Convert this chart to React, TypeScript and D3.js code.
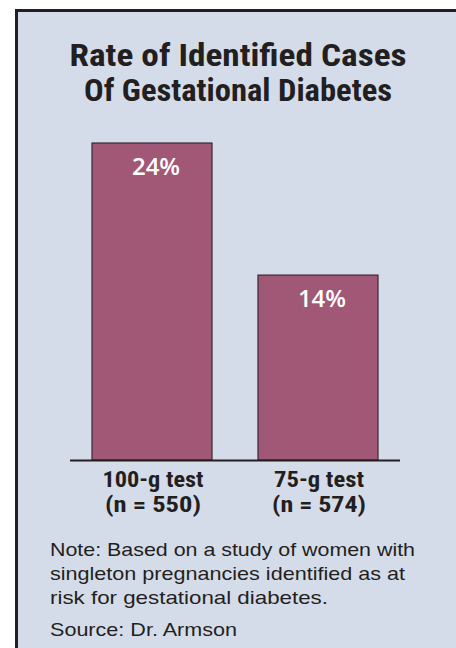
import React, { useEffect, useRef } from "react";
import { scaleBand, scaleLinear, select } from "d3";

// chart data
const categories = ["100-g test", "75-g test"];
const sampleSizes = ["(n = 550)", "(n = 574)"];
const rates = [24, 14];
const titleLines = ["Rate of Identified Cases", "Of Gestational Diabetes"];
const noteLines = [
  "Note: Based on a study of women with",
  "singleton pregnancies identified as at",
  "risk for gestational diabetes.",
];
const source = "Source: Dr. Armson";

const W = 456;
const H = 648;

export default function App() {
  const ref = useRef<SVGSVGElement>(null);

  useEffect(() => {
    const svg = select(ref.current);
    svg.selectAll("*").remove();

    const bg = "#d5dce9";
    const barColor = "#a15776";
    const narrow = "'Liberation Sans Narrow', 'Roboto Condensed', 'Arial Narrow', sans-serif";
    const sans = "'Liberation Sans', Arial, Helvetica, sans-serif";
    const ink = "#231f20";

    // panel + left/top border
    svg.append("rect").attr("x", 0).attr("y", 0).attr("width", W).attr("height", H).attr("fill", "#fff");
    svg
      .append("rect")
      .attr("x", 16)
      .attr("y", 10)
      .attr("width", W - 16)
      .attr("height", H - 10)
      .attr("fill", bg);
    svg
      .append("path")
      .attr("d", `M16.5,${H} V10.5 H${W}`)
      .attr("fill", "none")
      .attr("stroke", ink)
      .attr("stroke-width", 3);

    // title
    svg
      .append("g")
      .selectAll("text")
      .data(titleLines)
      .join("text")
      .attr("x", 238)
      .attr("y", (d, i) => 66 + i * 35)
      .attr("text-anchor", "middle")
      .attr("font-family", narrow)
      .attr("font-weight", "bold")
      .attr("font-size", 31)
      .attr("fill", ink)
      .attr("textLength", (d, i) => (i === 0 ? 337 : 308))
      .attr("lengthAdjust", "spacingAndGlyphs")
      .text((d) => d);

    const baseY = 460;
    const x = scaleBand<string>()
      .domain(categories)
      .range([70, 400])
      .paddingInner(0.277)
      .paddingOuter(0.1325);
    const y = scaleLinear().domain([0, 24]).range([baseY, 143]);

    const bars = svg
      .append("g")
      .selectAll("g")
      .data(categories)
      .join("g");

    bars
      .append("rect")
      .attr("x", (d) => x(d)!)
      .attr("y", (d, i) => y(rates[i]))
      .attr("width", x.bandwidth())
      .attr("height", (d, i) => baseY - y(rates[i]))
      .attr("fill", barColor)
      .attr("stroke", "#3a2a33")
      .attr("stroke-width", 1.2);

    bars
      .append("text")
      .attr("x", (d) => x(d)! + x.bandwidth() / 2 + 4)
      .attr("y", (d, i) => y(rates[i]) + 32)
      .attr("text-anchor", "middle")
      .attr("font-family", "'Open Sans', 'DejaVu Sans', sans-serif")
      .attr("font-weight", 600)
      .attr("font-size", 24)
      .attr("fill", "#fff")
      .text((d, i) => `${rates[i]}%`);

    // category labels
    const catLen = [101, 90];
    const nLen = [96, 94];
    bars
      .append("text")
      .attr("x", (d) => x(d)! + x.bandwidth() / 2 + 1)
      .attr("y", 487)
      .attr("text-anchor", "middle")
      .attr("font-family", narrow)
      .attr("font-weight", "bold")
      .attr("font-size", 22)
      .attr("fill", ink)
      .attr("textLength", (d, i) => catLen[i])
      .attr("lengthAdjust", "spacingAndGlyphs")
      .text((d) => d);

    bars
      .append("text")
      .attr("x", (d) => x(d)! + x.bandwidth() / 2 + 1)
      .attr("y", 512)
      .attr("text-anchor", "middle")
      .attr("font-family", narrow)
      .attr("font-weight", "bold")
      .attr("font-size", 22)
      .attr("fill", ink)
      .attr("textLength", (d, i) => nLen[i])
      .attr("lengthAdjust", "spacingAndGlyphs")
      .text((d, i) => sampleSizes[i]);

    // baseline
    svg
      .append("line")
      .attr("x1", 70)
      .attr("x2", 400)
      .attr("y1", baseY + 0.5)
      .attr("y2", baseY + 0.5)
      .attr("stroke", ink)
      .attr("stroke-width", 2.2);

    // note + source
    const noteLen = [365, 355, 278];
    svg
      .append("g")
      .selectAll("text")
      .data(noteLines)
      .join("text")
      .attr("x", 50)
      .attr("y", (d, i) => 556 + i * 24)
      .attr("font-family", sans)
      .attr("font-size", 18.5)
      .attr("fill", ink)
      .attr("textLength", (d, i) => noteLen[i])
      .attr("lengthAdjust", "spacingAndGlyphs")
      .text((d) => d);

    svg
      .append("text")
      .attr("x", 50)
      .attr("y", 636)
      .attr("font-family", sans)
      .attr("font-size", 18.5)
      .attr("fill", ink)
      .attr("textLength", 187)
      .attr("lengthAdjust", "spacingAndGlyphs")
      .text(source);
  }, []);

  return (
    <div style={{ position: "absolute", top: 0, left: 0 }}>
      <svg ref={ref} width={W} height={H} style={{ display: "block" }}></svg>
    </div>
  );
}
